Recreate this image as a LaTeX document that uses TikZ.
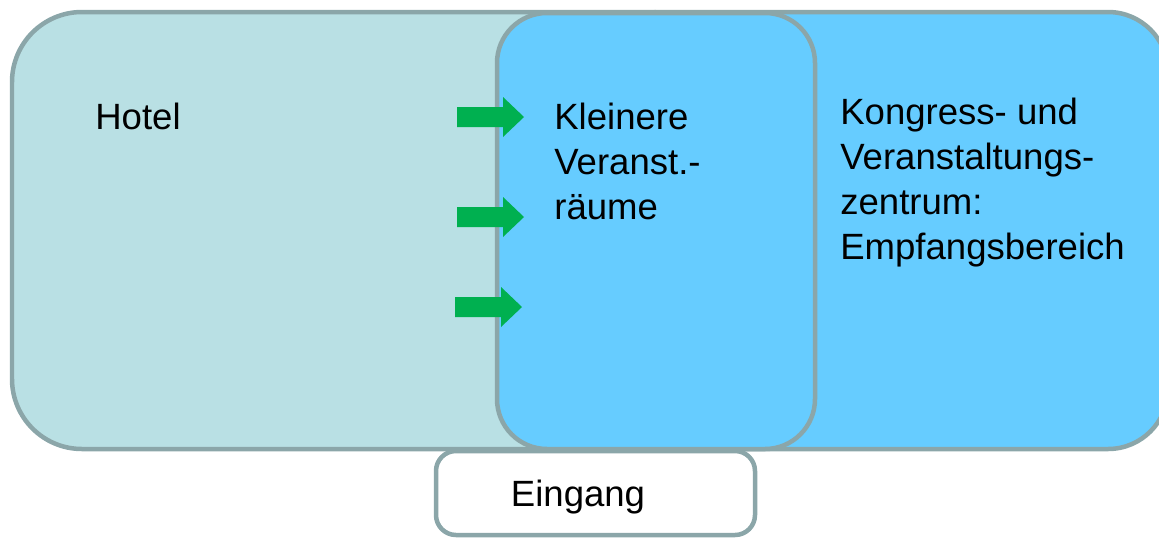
\documentclass[tikz,border=0pt]{standalone}
\usepackage{fontspec}
\setmainfont{Liberation Sans}
\usetikzlibrary{positioning}
\usepackage{xcolor}
\definecolor{hotelfill}{HTML}{B9E0E4}
\definecolor{roomfill}{HTML}{66CCFF}
\definecolor{rimgray}{HTML}{8BA6A9}
\definecolor{arrowgreen}{HTML}{00B050}
\def\boxfont{\fontsize{20.8pt}{25.6pt}\selectfont}

\begin{document}
\begin{tikzpicture}[x=0.02cm,y=-0.02cm]
    \tikzstyle{area}=[draw=rimgray, line width=0.09cm]
    \tikzstyle{hotel area}=[area, fill=hotelfill, rounded corners=1.4cm]
    \tikzstyle{room area}=[area, fill=roomfill, rounded corners=1.0cm]
    \tikzstyle{door}=[area, fill=white, rounded corners=0.4cm]
    \tikzstyle{annot}=[font=\boxfont, align=left, inner sep=0pt, anchor=north west]
    \tikzstyle{push}=[fill=arrowgreen]

    \useasboundingbox (0,0) rectangle (1159,538);
    \clip (0,0) rectangle (1159,538);

    % Eingang below the halls
    \path[door] (436,451) rectangle (755,535);
    \node[font=\boxfont, inner sep=0pt, anchor=base] (eingang) at (578,506) {Eingang};

    % hotel, congress centre, small rooms on top
    \path[hotel area] (12,12) rectangle (720,449);
    \path[room area, rounded corners=1.2cm] (600,12) rectangle (1168,449);
    \path[room area] (497,13) rectangle (815,449);

    \node[annot] (hotel) at (95,103) {Hotel};
    \node[annot] (kleinere) at (554,103) {Kleinere\\Veranst.-\\räume};
    \node[annot] (kongress) at (840,98) {Kongress- und\\Veranstaltungs-\\zentrum:\\Empfangsbereich};

	\foreach \x/\y in {457/117, 457/217, 455/307}{
		\coordinate (A-\y) at (\x,\y);
		\fill[push] (A-\y) ++(0,-10) -- ++(46,0) -- ++(0,-10) -- ++(21,20)
			-- ++(-21,20) -- ++(0,-10) -- ++(-46,0) -- cycle;
	}
\end{tikzpicture}
\end{document}
